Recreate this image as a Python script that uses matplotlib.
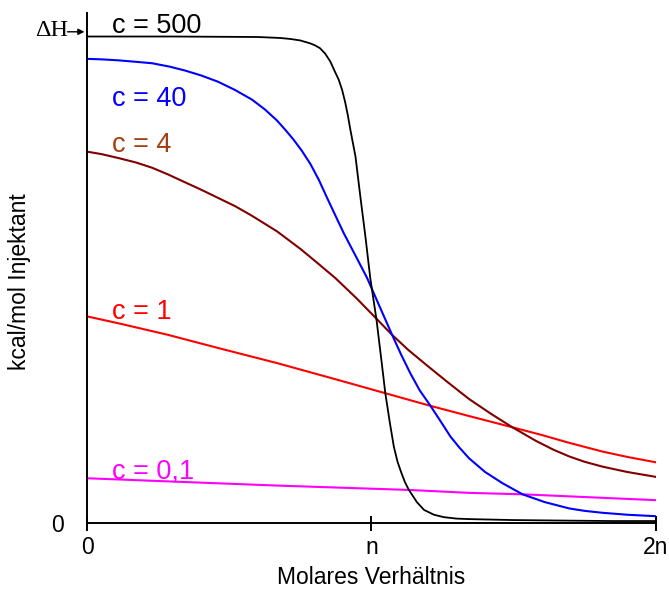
import matplotlib
matplotlib.use("Agg")
import matplotlib.pyplot as plt

# Molar ratio in units of n, normalised heat in units of ΔH
x_c500 = [0.0, 0.30, 0.60, 0.679, 0.714, 0.749, 0.784, 0.801, 0.819, 0.837, 0.855,
          0.869, 0.885, 0.897, 0.908, 0.917, 0.926, 0.944, 0.961, 0.979, 0.996,
          1.018, 1.035, 1.049, 1.065, 1.079, 1.092, 1.105, 1.118, 1.132, 1.160,
          1.185, 1.220, 1.255, 1.300, 1.344, 1.500, 1.664, 1.850, 2.0]
y_c500 = [1.0, 1.0, 0.999, 0.997, 0.995, 0.992, 0.986, 0.982, 0.976, 0.965, 0.949,
          0.931, 0.911, 0.890, 0.864, 0.838, 0.808, 0.753, 0.671, 0.588, 0.503,
          0.417, 0.335, 0.266, 0.205, 0.156, 0.125, 0.103, 0.083, 0.067, 0.042,
          0.026, 0.016, 0.011, 0.008, 0.007, 0.005, 0.004, 0.003, 0.003]

x_c40 = [0.0, 0.05, 0.109, 0.17, 0.228, 0.29, 0.344, 0.40, 0.460, 0.52, 0.580, 0.625,
         0.668, 0.70, 0.727, 0.755, 0.785, 0.815, 0.844, 0.873, 0.903, 0.945, 0.985,
         1.03, 1.073, 1.105, 1.137, 1.17, 1.208, 1.245, 1.278, 1.31, 1.344, 1.40,
         1.461, 1.532, 1.61, 1.696, 1.75, 1.813, 1.90, 2.0]
y_c40 = [0.954, 0.953, 0.951, 0.948, 0.945, 0.938, 0.930, 0.920, 0.907, 0.890, 0.870,
         0.850, 0.827, 0.806, 0.787, 0.765, 0.738, 0.705, 0.668, 0.632, 0.595, 0.548,
         0.503, 0.443, 0.386, 0.345, 0.307, 0.272, 0.240, 0.207, 0.177, 0.154, 0.132,
         0.104, 0.081, 0.058, 0.042, 0.029, 0.024, 0.020, 0.016, 0.013]

x_c4 = [0.0, 0.05, 0.109, 0.17, 0.228, 0.285, 0.344, 0.40, 0.460, 0.52, 0.580, 0.668,
        0.750, 0.81, 0.873, 0.95, 1.020, 1.073, 1.13, 1.196, 1.27, 1.344, 1.42,
        1.496, 1.579, 1.64, 1.696, 1.75, 1.813, 1.90, 2.0]
y_c4 = [0.763, 0.758, 0.750, 0.741, 0.730, 0.716, 0.700, 0.685, 0.668, 0.651, 0.631,
        0.599, 0.563, 0.534, 0.503, 0.460, 0.418, 0.386, 0.355, 0.323, 0.288, 0.254,
        0.224, 0.196, 0.168, 0.150, 0.136, 0.125, 0.115, 0.104, 0.094]

x_c1 = [0.0, 0.109, 0.285, 0.461, 0.668, 0.86, 1.049, 1.208, 1.344, 1.496, 1.60,
        1.696, 1.813, 1.90, 2.0]
y_c1 = [0.424, 0.410, 0.386, 0.359, 0.328, 0.297, 0.266, 0.240, 0.219, 0.196, 0.180,
        0.164, 0.146, 0.135, 0.124]

x_c01 = [0.0, 0.668, 1.132, 1.344, 1.532, 2.0]
y_c01 = [0.091, 0.076, 0.067, 0.061, 0.058, 0.046]

x_ticks = [0, 1, 2]
x_tick_labels = ["0", "n", "2n"]

W, H = 669, 596
fig = plt.figure(figsize=(W / 100, H / 100), dpi=100)
ax = fig.add_axes([87.3 / W, (H - 522.5) / H, (655.5 - 87.3) / W, (522.5 - 12.7) / H])

sans = ["Liberation Sans", "DejaVu Sans"]
serif = ["Liberation Serif", "DejaVu Serif"]

ax.plot(x_c01, y_c01, color="#ff00ff", lw=1.5, solid_joinstyle="round")
ax.plot(x_c1, y_c1, color="#ff0000", lw=1.5, solid_joinstyle="round")
ax.plot(x_c4, y_c4, color="#800000", lw=1.5, solid_joinstyle="round")
ax.plot(x_c40, y_c40, color="#0000ff", lw=1.5, solid_joinstyle="round")
ax.plot(x_c500, y_c500, color="black", lw=1.3, solid_joinstyle="round")

ax.set_xlim(0, 2)
ax.set_ylim(0, 1.049)

for side in ("top", "right"):
    ax.spines[side].set_visible(False)
for side in ("left", "bottom"):
    ax.spines[side].set_linewidth(1.4)

ax.set_xticks(x_ticks)
ax.set_xticklabels(x_tick_labels, fontfamily=sans, fontsize=16.5)
ax.tick_params(axis="x", direction="inout", length=10.8, width=1.4, pad=4)
ax.set_yticks([0])
ax.set_yticklabels(["0"], fontfamily=sans, fontsize=16.5)
ax.tick_params(axis="y", length=0, pad=17)

ax.set_xlabel("Molares Verhältnis", fontfamily=sans, fontsize=16.5)
ax.xaxis.label.set_va("center")
ax.xaxis.set_label_coords(0.5, (522.5 - 577) / 509.8)
ax.set_ylabel("kcal/mol Injektant", fontfamily=sans, fontsize=16.5)
ax.yaxis.label.set_va("center")
ax.yaxis.label.set_rotation_mode("default")
ax.yaxis.set_label_coords((20 - 87.3) / 568.2, (522.5 - 282) / 509.8)

# Curve labels
lbl_x = 0.088
labels = [("c = 500", 1.008, "black"),
          ("c = 40", 0.857, "#0000ff"),
          ("c = 4", 0.763, "#a33f12"),
          ("c = 1", 0.418, "#ff0000"),
          ("c = 0,1", 0.091, "#ff00ff")]
for txt, yb, col in labels:
    ax.text(lbl_x, yb, txt, color=col, fontsize=19.5, fontfamily=sans,
            ha="left", va="baseline", clip_on=False)

# ΔH marker with arrow pointing at the y axis
ax.annotate("", xy=(-0.010, 1.0097), xytext=(-0.070, 1.0097),
            arrowprops=dict(arrowstyle="-|>", lw=1.0, color="black",
                            mutation_scale=9, shrinkA=0, shrinkB=0),
            annotation_clip=False)
ax.text(-0.068, 1.012, "ΔH", fontfamily=serif, fontsize=17.5, ha="right",
        va="center", clip_on=False)

fig.savefig("out.png", dpi=100)
